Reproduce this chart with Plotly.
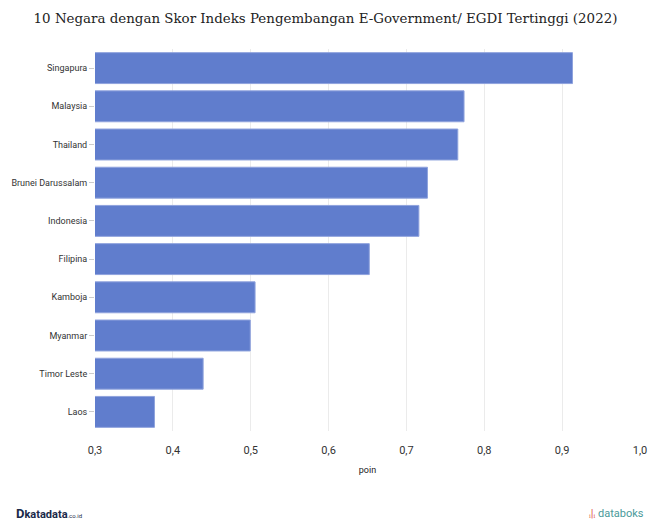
import plotly.graph_objects as go

countries = ["Singapura", "Malaysia", "Thailand", "Brunei Darussalam", "Indonesia",
             "Filipina", "Kamboja", "Myanmar", "Timor Leste", "Laos"]
scores = [0.9133, 0.7740, 0.7660, 0.7270, 0.7160, 0.6523, 0.5056, 0.4994, 0.4389, 0.3764]
x_ticks = [0.3, 0.4, 0.5, 0.6, 0.7, 0.8, 0.9, 1.0]

fig = go.Figure()
fig.add_trace(go.Bar(
    x=scores, y=countries, orientation="h",
    marker=dict(color="#607dcd", line=dict(color="#8fa3dd", width=1)),
    base=0,
))

L, R, T, B = 95, 11, 49, 89
W, H = 651, 520
pw, ph = W - L - R, H - T - B

fig.update_layout(
    width=W, height=H,
    margin=dict(l=L, r=R, t=T, b=B),
    paper_bgcolor="white", plot_bgcolor="white",
    separators=", ",
    bargap=0.19,
    showlegend=False,
    title=dict(text="10 Negara dengan Skor Indeks Pengembangan E-Government/ EGDI Tertinggi (2022)",
               x=0.5, xanchor="center", y=0.965, yanchor="middle", automargin=False,
               font=dict(family="DejaVu Serif", size=13.4, color="#222")),
    font=dict(family="Roboto", color="#333"),
)
fig.update_xaxes(
    range=[0.3, 1.0], tickvals=x_ticks, tickformat=".1f", automargin=False,
    showgrid=True, gridcolor="#ebebeb", gridwidth=1, zeroline=False,
    tickfont=dict(size=11, color="#333"), ticks="outside", ticklen=9, tickcolor="rgba(0,0,0,0)",
    showline=False,
    title=dict(text="poin", font=dict(size=9, color="#222"), standoff=10),
)
fig.update_yaxes(
    categoryorder="array", categoryarray=countries[::-1], automargin=False,
    tickfont=dict(size=9, color="#333"), ticks="outside", ticklen=5, tickcolor="#ccc",
    showgrid=False, showline=False,
)
fig.add_annotation(x=(14 - L) / pw, y=(H - B - 513) / ph, xref="paper", yref="paper",
                   xanchor="left", yanchor="middle", showarrow=False,
                   text="<b><span style='font-size:13px'>D</span>katadata</b><span style='font-size:6px'>.co.id</span>",
                   font=dict(family="Roboto", size=11, color="#1b2a4a"))
fig.add_annotation(x=(646 - L) / pw, y=(H - B - 513) / ph, xref="paper", yref="paper",
                   xanchor="right", yanchor="middle", showarrow=False,
                   text="<span style='color:#e0584a'>ᵢ|ᵢ</span> databoks",
                   font=dict(family="Roboto", size=11, color="#4a9a9a"))
fig.write_html("out.html")
